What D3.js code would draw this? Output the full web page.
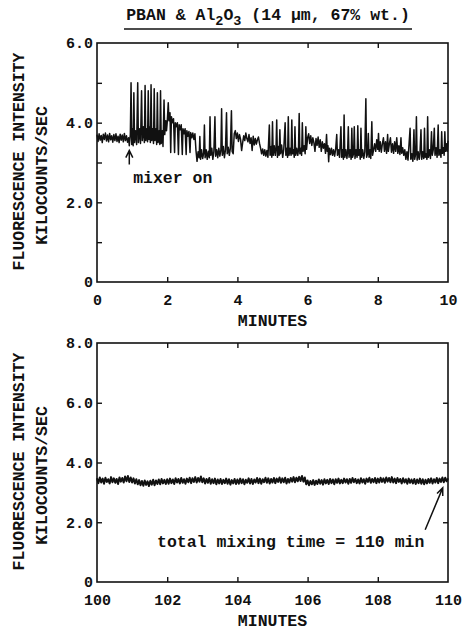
<!DOCTYPE html>
<html>
<head>
<meta charset="utf-8">
<script src="https://cdn.jsdelivr.net/npm/d3@7"></script>
<style>
  body { margin: 0; background: #fff; }
  svg { display: block; }
  text { font-family: "Liberation Mono", "DejaVu Sans Mono", monospace; fill: #111; }
</style>
</head>
<body>
<div id="chart"></div>
<script>
const W = 462;
const H = 630;

// Oben: 0-10 min, [Minuten, kcounts/s]
const traceStart = [
  [0.00, 3.70], [0.03, 3.53], [0.06, 3.72], [0.09, 3.56], [0.12, 3.68], [0.15, 3.50], [0.18, 3.71], [0.21, 3.58],
  [0.24, 3.74], [0.27, 3.54], [0.30, 3.69], [0.33, 3.52], [0.36, 3.73], [0.39, 3.57], [0.42, 3.67], [0.45, 3.51],
  [0.48, 3.70], [0.51, 3.55], [0.54, 3.72], [0.57, 3.53], [0.60, 3.66], [0.63, 3.50], [0.66, 3.71], [0.69, 3.56],
  [0.72, 3.69], [0.75, 3.52], [0.78, 3.73], [0.81, 3.55], [0.84, 3.67], [0.87, 3.51], [0.90, 3.62]
];
const traceMixer = [
  [0.92, 3.42], [0.95, 3.70], [0.97, 5.00], [0.99, 3.45], [1.01, 3.85], [1.03, 3.42], [1.05, 4.75], [1.07, 3.50],
  [1.10, 3.80], [1.13, 3.45], [1.16, 5.00], [1.18, 3.50], [1.21, 3.85], [1.24, 3.48], [1.27, 4.80], [1.29, 3.55],
  [1.32, 3.90], [1.35, 3.50], [1.37, 4.93], [1.39, 3.55], [1.42, 3.85], [1.44, 3.52], [1.46, 4.80], [1.48, 3.58],
  [1.51, 3.90], [1.52, 3.50], [1.54, 4.95], [1.56, 3.55], [1.59, 3.85], [1.61, 3.48], [1.63, 4.85], [1.65, 3.55],
  [1.68, 3.85], [1.70, 3.45], [1.72, 4.75], [1.74, 3.50], [1.77, 3.80], [1.79, 3.45], [1.81, 4.80], [1.83, 3.48],
  [1.86, 3.80], [1.88, 3.40], [1.91, 4.57], [1.93, 3.70], [1.96, 4.05], [1.98, 3.80],
  [2.00, 4.00], [2.03, 4.50], [2.05, 4.05], [2.08, 4.25], [2.10, 3.25], [2.12, 4.15], [2.15, 4.00], [2.18, 4.10],
  [2.21, 3.25], [2.23, 4.00], [2.26, 3.90], [2.29, 4.00], [2.32, 3.20], [2.34, 3.95], [2.37, 3.82], [2.40, 3.95],
  [2.43, 3.20], [2.45, 3.85], [2.48, 3.72], [2.51, 3.85], [2.54, 3.20], [2.56, 3.80], [2.59, 3.66], [2.62, 3.78],
  [2.65, 3.25], [2.67, 3.75], [2.70, 3.62], [2.73, 3.74], [2.76, 3.58], [2.79, 3.72], [2.82, 3.30]
];
const traceMiddle = [
  [2.85, 3.03], [2.88, 3.27], [2.91, 3.12], [2.93, 3.65], [2.95, 3.08], [2.98, 3.32], [3.01, 3.10], [3.04, 3.24],
  [3.06, 3.94], [3.08, 3.12], [3.11, 3.32], [3.14, 3.08], [3.17, 3.28], [3.20, 3.12], [3.22, 4.15], [3.24, 3.18],
  [3.27, 3.36], [3.30, 3.08], [3.33, 3.28], [3.36, 4.15], [3.38, 3.16], [3.41, 3.32], [3.44, 3.12], [3.47, 3.36],
  [3.50, 3.16], [3.53, 3.32], [3.55, 4.35], [3.57, 3.18], [3.60, 3.40], [3.63, 3.12], [3.66, 3.32], [3.69, 4.25],
  [3.71, 3.22], [3.74, 3.38], [3.77, 3.18], [3.80, 3.36], [3.83, 4.30], [3.85, 3.28], [3.88, 3.22],
  [3.91, 3.72], [3.94, 3.80], [3.97, 3.60], [4.00, 3.74], [4.03, 3.53], [4.06, 3.70], [4.09, 3.58], [4.12, 3.30],
  [4.15, 3.50], [4.18, 3.67], [4.21, 3.55], [4.24, 3.74], [4.27, 3.60], [4.30, 3.52], [4.33, 3.70], [4.36, 3.48],
  [4.39, 3.62], [4.42, 3.30], [4.45, 3.66], [4.48, 3.44], [4.51, 3.60], [4.54, 3.46], [4.57, 3.57], [4.60, 3.64],
  [4.63, 3.48], [4.66, 3.36], [4.69, 3.22], [4.72, 3.34], [4.75, 3.18], [4.78, 3.32], [4.81, 3.16], [4.84, 3.30],
  [4.87, 3.13],
  [4.91, 3.94], [4.93, 3.18], [4.96, 3.40], [4.98, 3.13], [5.00, 4.02], [5.02, 3.18], [5.05, 3.42], [5.08, 3.18],
  [5.10, 3.36], [5.12, 4.07], [5.14, 3.13], [5.17, 3.40], [5.19, 3.18], [5.21, 3.82], [5.23, 3.22], [5.26, 3.44],
  [5.29, 3.13], [5.32, 3.32], [5.36, 4.00], [5.38, 3.18], [5.41, 3.36], [5.43, 3.13], [5.45, 4.15], [5.47, 3.18],
  [5.50, 3.36], [5.53, 3.18], [5.55, 4.07], [5.57, 3.22], [5.60, 3.32], [5.62, 3.13], [5.64, 3.90], [5.66, 3.18],
  [5.69, 3.36], [5.72, 3.18], [5.74, 3.32], [5.76, 4.23], [5.78, 3.22], [5.81, 3.36], [5.83, 3.18], [5.85, 4.00],
  [5.87, 3.28], [5.90, 3.42], [5.93, 3.22], [5.95, 3.90], [5.97, 3.33]
];
const traceEnd = [
  [6.00, 3.62], [6.03, 3.72], [6.06, 3.48], [6.09, 3.67], [6.12, 3.43], [6.15, 3.62], [6.18, 3.50], [6.21, 3.28],
  [6.24, 3.60], [6.27, 3.43], [6.30, 3.64], [6.33, 3.38], [6.36, 3.57], [6.39, 3.28], [6.42, 3.52], [6.45, 3.36],
  [6.48, 3.47], [6.51, 3.23], [6.54, 3.70], [6.56, 3.28], [6.58, 3.42], [6.60, 3.02], [6.62, 3.36], [6.65, 3.20],
  [6.68, 3.36], [6.71, 3.18], [6.74, 3.32], [6.77, 3.16], [6.80, 3.34], [6.83, 3.70], [6.85, 3.18], [6.88, 3.32],
  [6.91, 3.13],
  [6.95, 3.90], [6.97, 3.13], [7.00, 3.32], [7.02, 3.08], [7.04, 4.19], [7.06, 3.13], [7.09, 3.32], [7.12, 3.10],
  [7.14, 3.27], [7.16, 3.90], [7.18, 3.13], [7.21, 3.32], [7.24, 3.08], [7.26, 3.86], [7.28, 3.13], [7.31, 3.22],
  [7.33, 3.90], [7.35, 3.10], [7.38, 3.32], [7.41, 3.13], [7.43, 3.92], [7.45, 3.18], [7.48, 3.32], [7.50, 3.08],
  [7.52, 3.86], [7.54, 3.13], [7.57, 3.32], [7.60, 3.10], [7.63, 3.27], [7.66, 4.60], [7.68, 3.13], [7.71, 3.22],
  [7.73, 3.73], [7.75, 3.13], [7.78, 3.32], [7.80, 3.10], [7.83, 4.02], [7.85, 3.18], [7.88, 3.32],
  [7.91, 3.47], [7.94, 3.28], [7.97, 3.57], [8.00, 3.33], [8.02, 3.73], [8.04, 3.28], [8.07, 3.52], [8.10, 3.26],
  [8.13, 3.47], [8.16, 3.62], [8.19, 3.28], [8.22, 3.52], [8.25, 3.23], [8.28, 3.70], [8.30, 3.28], [8.33, 3.47],
  [8.36, 3.62], [8.39, 3.26], [8.42, 3.47], [8.45, 3.23], [8.48, 3.52], [8.51, 3.28], [8.54, 3.62], [8.57, 3.23],
  [8.60, 3.42], [8.63, 3.20], [8.66, 3.62], [8.68, 3.23], [8.71, 3.37], [8.74, 3.18], [8.77, 3.32], [8.80, 3.08],
  [8.83, 3.27], [8.86, 3.06],
  [8.92, 3.86], [8.94, 3.08], [8.97, 3.22], [9.00, 3.03], [9.03, 3.82], [9.05, 3.08], [9.08, 3.22], [9.10, 4.15],
  [9.12, 3.06], [9.15, 3.27], [9.18, 3.08], [9.20, 3.22], [9.23, 3.82], [9.25, 3.08], [9.28, 3.27], [9.31, 3.10],
  [9.33, 3.86], [9.35, 3.13], [9.38, 3.22], [9.40, 3.08], [9.42, 4.15], [9.44, 3.13], [9.47, 3.32], [9.50, 3.10],
  [9.53, 3.77], [9.55, 3.18], [9.58, 3.32], [9.61, 3.86], [9.63, 3.18], [9.66, 3.37], [9.69, 3.13], [9.72, 3.94],
  [9.74, 3.18], [9.77, 3.32], [9.80, 3.13], [9.82, 3.77], [9.84, 3.23], [9.87, 3.37], [9.89, 3.18], [9.91, 3.77],
  [9.93, 3.28], [9.96, 3.47], [9.98, 3.28], [10.00, 3.55]
];

// Unten: 100-110 min, ein Messwert alle 0,04 min
const lateStart = 100;
const lateStep = 0.04;
const lateValues = [
  3.47, 3.31, 3.50, 3.33, 3.46, 3.29, 3.49, 3.35, 3.44, 3.30, 3.51, 3.34, 3.47, 3.32, 3.45, 3.28, 3.50, 3.36, 3.48, 3.33, 3.53, 3.37, 3.55, 3.35, 3.50,
  3.33, 3.47, 3.30, 3.44, 3.27, 3.41, 3.24, 3.38, 3.22, 3.40, 3.25, 3.37, 3.21, 3.39, 3.26, 3.42, 3.24, 3.40, 3.28, 3.43, 3.27, 3.45, 3.30, 3.42, 3.28,
  3.44, 3.29, 3.46, 3.31, 3.43, 3.28, 3.47, 3.33, 3.45, 3.30, 3.48, 3.32, 3.44, 3.29, 3.46, 3.34, 3.49, 3.31, 3.47, 3.35, 3.51, 3.33, 3.48, 3.36, 3.53,
  3.34, 3.47, 3.30, 3.45, 3.32, 3.48, 3.29, 3.44, 3.31, 3.46, 3.27, 3.43, 3.30, 3.45, 3.28, 3.42, 3.31, 3.46, 3.29, 3.44, 3.26, 3.41, 3.30, 3.45, 3.28,
  3.43, 3.29, 3.46, 3.31, 3.44, 3.27, 3.42, 3.32, 3.47, 3.30, 3.45, 3.28, 3.43, 3.33, 3.48, 3.31, 3.46, 3.29, 3.44, 3.34, 3.49, 3.32, 3.47, 3.30, 3.45,
  3.33, 3.48, 3.31, 3.46, 3.35, 3.50, 3.32, 3.47, 3.34, 3.49, 3.30, 3.45, 3.33, 3.48, 3.36, 3.51, 3.34, 3.49, 3.37, 3.52, 3.38, 3.55, 3.36, 3.50, 3.27,
  3.40, 3.24, 3.38, 3.27, 3.41, 3.25, 3.39, 3.28, 3.43, 3.29, 3.41, 3.26, 3.44, 3.30, 3.42, 3.28, 3.45, 3.31, 3.43, 3.27, 3.44, 3.32, 3.46, 3.30, 3.42,
  3.31, 3.46, 3.33, 3.44, 3.29, 3.45, 3.32, 3.48, 3.34, 3.45, 3.31, 3.43, 3.30, 3.47, 3.33, 3.44, 3.29, 3.46, 3.35, 3.49, 3.32, 3.45, 3.34, 3.48, 3.31,
  3.46, 3.33, 3.49, 3.35, 3.47, 3.32, 3.50, 3.36, 3.48, 3.34, 3.51, 3.33, 3.46, 3.31, 3.48, 3.35, 3.45, 3.30, 3.47, 3.33, 3.44, 3.29, 3.46, 3.32, 3.43,
  3.30, 3.45, 3.28, 3.43, 3.31, 3.46, 3.29, 3.44, 3.27, 3.42, 3.30, 3.45, 3.32, 3.47, 3.30, 3.44, 3.33, 3.48, 3.31, 3.46, 3.35, 3.50, 3.34, 3.49, 3.37,
  3.47
];
const traceLate = lateValues.map((v, i) => [lateStart + i * lateStep, v]);

const topXTicks = [0, 2, 4, 6, 8, 10];
const topYLabels = [0, 2, 4, 6];
const topYMinor = [1, 2, 3, 4, 5];
const botXTicks = [100, 102, 104, 106, 108, 110];
const botYLabels = [0, 2, 4, 6, 8];
const botYMinor = [2, 4, 6];

const svg = d3.select("#chart").append("svg").attr("width", W).attr("height", H);

// Titel mit Tiefstellung
const title = svg.append("text")
  .attr("x", 268)
  .attr("y", 20)
  .attr("text-anchor", "middle")
  .attr("font-size", 16.5)
  .attr("font-weight", "bold");
title.append("tspan").text("PBAN & Al");
title.append("tspan").attr("font-size", 13.5).attr("dy", 5).text("2");
title.append("tspan").attr("dy", -5).text("O");
title.append("tspan").attr("font-size", 13.5).attr("dy", 5).text("3");
title.append("tspan").attr("dy", -5).text(" (14 \u03bcm, 67% wt.)");

svg.append("line")
  .attr("x1", 124).attr("x2", 412)
  .attr("y1", 29).attr("y2", 29)
  .attr("stroke", "#111").attr("stroke-width", 1.6);

function panel(cfg) {
  const { xDomain, yDomain, top, bottom, xTicks, yLabels, yMinor, data, sw } = cfg;
  const left = 97, right = 448;

  const x = d3.scaleLinear().domain(xDomain).range([left, right]);
  const y = d3.scaleLinear().domain(yDomain).range([bottom, top]);

  const g = svg.append("g");
  const inner = xTicks.slice(1, -1);

  // Ticks nach innen
  g.append("g").attr("transform", `translate(0,${bottom})`)
    .call(d3.axisBottom(x).tickValues(inner).tickSizeInner(-5).tickSizeOuter(0).tickFormat(""));
  g.append("g").attr("transform", `translate(0,${top})`)
    .call(d3.axisTop(x).tickValues(inner).tickSizeInner(-5).tickSizeOuter(0).tickFormat(""));
  g.append("g").attr("transform", `translate(${left},0)`)
    .call(d3.axisLeft(y).tickValues(yMinor).tickSizeInner(-5).tickSizeOuter(0).tickFormat(""));
  g.append("g").attr("transform", `translate(${right},0)`)
    .call(d3.axisRight(y).tickValues(yMinor).tickSizeInner(-5).tickSizeOuter(0).tickFormat(""));
  g.selectAll(".domain").remove();
  g.selectAll(".tick line").attr("stroke", "#111").attr("stroke-width", 1.4);

  // Beschriftungen
  const xl = g.append("g").attr("transform", `translate(0,${bottom})`)
    .call(d3.axisBottom(x).tickValues(xTicks).tickSize(0).tickPadding(12).tickFormat(d3.format("d")));
  const yl = g.append("g").attr("transform", `translate(${left},0)`)
    .call(d3.axisLeft(y).tickValues(yLabels).tickSize(0).tickPadding(4)
      .tickFormat(d => d === 0 ? "0" : d3.format(".1f")(d)));
  xl.select(".domain").remove();
  yl.select(".domain").remove();
  g.selectAll(".tick text")
    .attr("font-family", "Liberation Mono")
    .attr("font-size", 15)
    .attr("font-weight", "bold")
    .attr("fill", "#111");

  // Kurve
  const line = d3.line().x(d => x(d[0])).y(d => y(d[1]));
  data.forEach(seg => {
    g.append("path")
      .datum(seg)
      .attr("fill", "none")
      .attr("stroke", "#111")
      .attr("stroke-width", sw)
      .attr("stroke-linejoin", "round")
      .attr("d", line);
  });

  // Rahmen
  g.append("rect")
    .attr("x", left).attr("y", top)
    .attr("width", right - left).attr("height", bottom - top)
    .attr("fill", "none").attr("stroke", "#111").attr("stroke-width", 1.6);

  // Achsentitel
  g.append("text")
    .attr("x", (left + right) / 2)
    .attr("y", bottom + 44)
    .attr("text-anchor", "middle")
    .attr("font-size", 16.5)
    .attr("font-weight", "bold")
    .text("MINUTES");

  const cy = (top + bottom) / 2;
  g.append("text")
    .attr("transform", `translate(24,${cy - 1}) rotate(-90)`)
    .attr("text-anchor", "middle")
    .attr("font-size", 16.5)
    .attr("font-weight", "bold")
    .text("FLUORESCENCE INTENSITY");
  g.append("text")
    .attr("transform", `translate(47,${cy + 13}) rotate(-90)`)
    .attr("text-anchor", "middle")
    .attr("font-size", 16.5)
    .attr("font-weight", "bold")
    .text("KILOCOUNTS/SEC");

  return { x, y, g };
}

const p1 = panel({
  xDomain: [0, 10], yDomain: [0, 6], top: 43, bottom: 282,
  xTicks: topXTicks, yLabels: topYLabels, yMinor: topYMinor,
  data: [traceStart.concat(traceMixer, traceMiddle, traceEnd)], sw: 1.5
});

const p2 = panel({
  xDomain: [100, 110], yDomain: [0, 8], top: 343, bottom: 582,
  xTicks: botXTicks, yLabels: botYLabels, yMinor: botYMinor,
  data: [traceLate], sw: 2
});

// Pfeil "mixer on"
const ax = p1.x(0.92);
p1.g.append("path")
  .attr("d", `M${ax},${p1.y(2.95)} L${ax},${p1.y(3.3)} M${ax - 3.5},${p1.y(3.3) + 7} L${ax},${p1.y(3.3)} L${ax + 3.5},${p1.y(3.3) + 7}`)
  .attr("fill", "none").attr("stroke", "#111").attr("stroke-width", 1.5);
p1.g.append("text")
  .attr("x", p1.x(1.03))
  .attr("y", 183)
  .attr("font-size", 16.5)
  .attr("font-weight", "bold")
  .text("mixer on");

// Pfeil "total mixing time"
const x1 = p2.x(109.35), y1 = p2.y(1.75);
const x2 = p2.x(109.85), y2 = p2.y(3.15);
const ang = Math.atan2(y2 - y1, x2 - x1);
const hl = 8;
p2.g.append("path")
  .attr("d", `M${x1},${y1} L${x2},${y2} M${x2 - hl * Math.cos(ang - 0.4)},${y2 - hl * Math.sin(ang - 0.4)} L${x2},${y2} L${x2 - hl * Math.cos(ang + 0.4)},${y2 - hl * Math.sin(ang + 0.4)}`)
  .attr("fill", "none").attr("stroke", "#111").attr("stroke-width", 1.5);
p2.g.append("text")
  .attr("x", 157)
  .attr("y", 547)
  .attr("font-size", 16.5)
  .attr("font-weight", "bold")
  .text("total mixing time = 110 min");
</script>
</body>
</html>
